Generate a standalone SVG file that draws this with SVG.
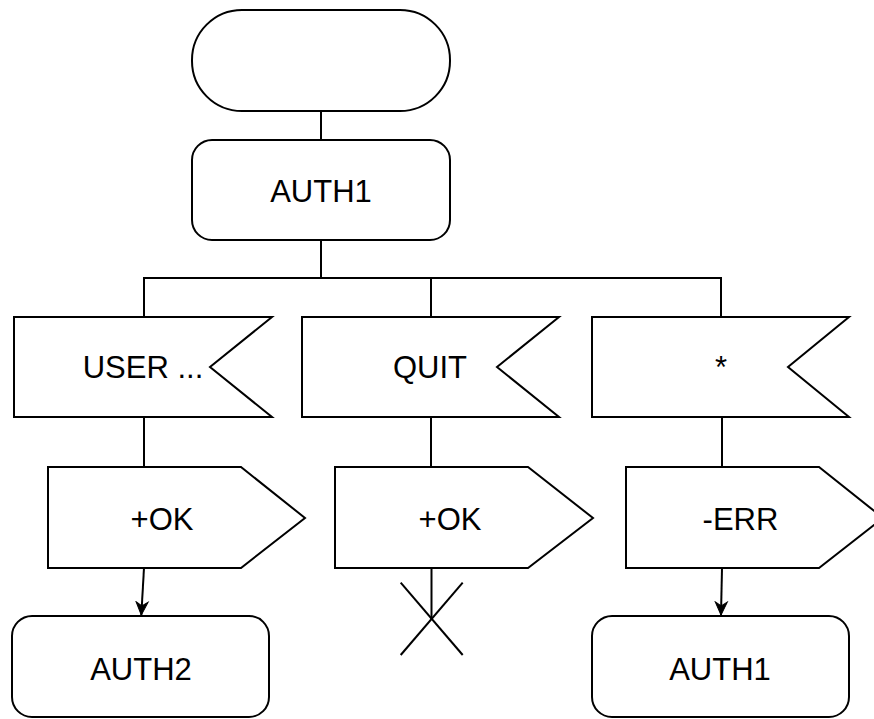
<svg xmlns="http://www.w3.org/2000/svg" width="874" height="719" viewBox="0 0 874 719">
<defs>
<style>
.s{fill:#fff;stroke:#000;stroke-width:2}
.c{fill:none;stroke:#000;stroke-width:2}
.t{font-family:"Liberation Sans",Arial,Helvetica,sans-serif;font-size:31px;fill:#000;text-anchor:middle}
</style>
<marker id="arr" markerUnits="userSpaceOnUse" markerWidth="16" markerHeight="16" viewBox="-14 -8 16 16" refX="0" refY="0" orient="auto">
<path d="M0,0 L-13,-6 L-9,0 L-13,6 Z" fill="#000" stroke="#000" stroke-width="1"/>
</marker>
</defs>
<rect width="874" height="719" fill="#fff"/>
<g id="connectors">
<line class="c" x1="321" y1="111" x2="321" y2="140"/>
<line class="c" x1="321" y1="240" x2="321" y2="278"/>
<polyline class="c" points="144,317 144,278 721,278 721,317"/>
<line class="c" x1="431" y1="278" x2="431" y2="317"/>
<line class="c" x1="144" y1="417" x2="144" y2="467"/>
<line class="c" x1="431" y1="417" x2="431" y2="467"/>
<line class="c" x1="722" y1="417" x2="722" y2="467"/>
<line class="c" x1="144" y1="568" x2="141.3" y2="615" marker-end="url(#arr)"/>
<line class="c" x1="722" y1="568" x2="721" y2="615" marker-end="url(#arr)"/>
<line class="c" x1="431.5" y1="568" x2="431.5" y2="619"/>
<line class="c" x1="400.7" y1="582.7" x2="462.7" y2="655"/>
<line class="c" x1="462.7" y1="582.7" x2="400.7" y2="655"/>
</g>
<g id="start">
<rect class="s" x="192" y="10" width="258" height="101" rx="50" ry="50"/>
</g>
<g id="auth1-top">
<rect class="s" x="192" y="140" width="258" height="100" rx="20" ry="20"/>
<text class="t" x="321" y="202">AUTH1</text>
</g>
<g id="recv-user">
<polygon class="s" points="14,317 272,317 210,367 272,417 14,417"/>
<text class="t" x="143" y="378">USER ...</text>
</g>
<g id="recv-quit">
<polygon class="s" points="302,317 559,317 497,367 559,417 302,417"/>
<text class="t" x="430" y="378">QUIT</text>
</g>
<g id="recv-any">
<polygon class="s" points="592,317 849,317 788,367 849,417 592,417"/>
<text class="t" x="721" y="378">*</text>
</g>
<g id="send-ok1">
<polygon class="s" points="48,467 241,467 305,518 241,568 48,568"/>
<text class="t" x="162" y="530">+OK</text>
</g>
<g id="send-ok2">
<polygon class="s" points="335,467 528,467 593,518 528,568 335,568"/>
<text class="t" x="450" y="530">+OK</text>
</g>
<g id="send-err">
<polygon class="s" points="626,467 819,467 883,518 819,568 626,568"/>
<text class="t" x="740.5" y="530">-ERR</text>
</g>
<g id="auth2">
<rect class="s" x="12" y="616" width="257" height="101" rx="20" ry="20"/>
<text class="t" x="141" y="680">AUTH2</text>
</g>
<g id="auth1-bottom">
<rect class="s" x="592" y="616" width="257" height="101" rx="20" ry="20"/>
<text class="t" x="720" y="680">AUTH1</text>
</g>
</svg>
